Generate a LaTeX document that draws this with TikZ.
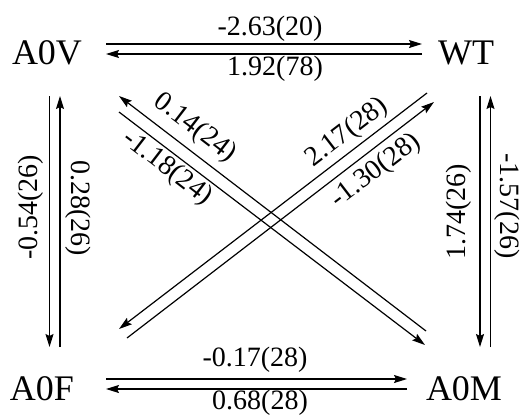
\documentclass[tikz,border=0pt]{standalone}
\usepackage{fontspec}
\setmainfont{Liberation Serif}
\usetikzlibrary{arrows.meta}

\tikzset{
  state/.style={inner sep=0pt, font=\fontsize{36}{38}\selectfont},
  rate/.style={inner sep=0pt, font=\fontsize{28}{30}\selectfont},
  flow/.style={->, line width=1.2pt}
}

\begin{document}
\begin{tikzpicture}[x=1pt, y=-1pt, >={Stealth[length=13pt,width=8pt,inset=2pt]}]

\useasboundingbox (0,0) rectangle (525,416);

% States
\node[state] (A0V) at (47,52.5) {A0V};
\node[state] (WT)  at (466,52.5) {WT};
\node[state] (A0F) at (42,389) {A0F};
\node[state] (A0M) at (464,389) {A0M};

% Top pair
\draw[flow] ([shift={(59,-8.5)}]A0V.center) -- ([shift={(-44,-8.5)}]WT.center);
\draw[flow] ([shift={(-44,1.5)}]WT.center) -- ([shift={(59,1.5)}]A0V.center);

% Bottom pair
\draw[flow] ([shift={(64,-10)}]A0F.center) -- ([shift={(-57,-10)}]A0M.center);
\draw[flow] ([shift={(-57,0)}]A0M.center) -- ([shift={(64,0)}]A0F.center);

% Left pair
\draw[flow] ([shift={(2.5,43.5)}]A0V.center) -- ([shift={(7.5,-42)}]A0F.center);
\draw[flow] ([shift={(18,-42)}]A0F.center) -- ([shift={(13,43.5)}]A0V.center);

% Right pair
\draw[flow] ([shift={(14,43.5)}]WT.center) -- ([shift={(16,-42)}]A0M.center);
\draw[flow] ([shift={(26.5,-42)}]A0M.center) -- ([shift={(24.5,43.5)}]WT.center);

% Diagonals
\draw[flow] ([shift={(-38,-58)}]A0M.center) -- ([shift={(72,43.5)}]A0V.center);
\draw[flow] ([shift={(72,59.5)}]A0V.center) -- ([shift={(-39,-44)}]A0M.center);
\draw[flow] ([shift={(-39,40.5)}]WT.center) -- ([shift={(77,-60)}]A0F.center);
\draw[flow] ([shift={(85,-51)}]A0F.center) -- ([shift={(-32,49.5)}]WT.center);

% Rates
\node[rate] (vw)  at (270,29)  {-2.63(20)};
\node[rate] (wv)  at (275,69)  {1.92(78)};
\node[rate] (fm)  at (255,360) {-0.17(28)};
\node[rate] (mf)  at (260,403) {0.68(28)};
\node[rate, rotate=90]  (vf) at (31,207.5) {-0.54(26)};
\node[rate, rotate=-90] (fv) at (78,208)   {0.28(26)};
\node[rate, rotate=90]  (mw) at (459,212)  {1.74(26)};
\node[rate, rotate=-90] (wm) at (507,206)  {-1.57(26)};
\node[rate, rotate=-37.5] (mv) at (195,128) {0.14(24)};
\node[rate, rotate=-37.5] (vm) at (167,168) {-1.18(24)};
\node[rate, rotate=37.5]  (wf) at (347,133) {2.17(28)};
\node[rate, rotate=37.5]  (fw) at (376,171) {-1.30(28)};

\end{tikzpicture}
\end{document}
